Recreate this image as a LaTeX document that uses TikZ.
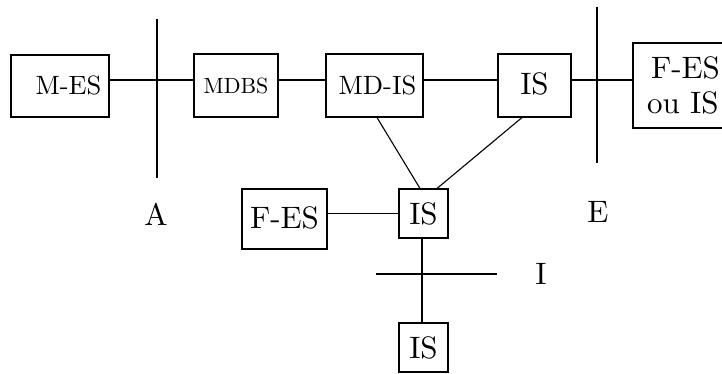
\documentclass[tikz,border=0pt]{standalone}
\usepackage{fontspec}
\setmainfont{lmroman10-regular}[Extension=.otf]
\begin{document}
\begin{tikzpicture}[x=1pt,y=-1pt,
  box/.style={draw, line width=1.1pt, inner sep=0pt},
  small/.style={font=\fontsize{26.5}{30}\selectfont},
  big/.style={font=\fontsize{31}{35}\selectfont},
  link/.style={line width=1.1pt},
  lbl/.style={font=\fontsize{31}{35}\selectfont, inner sep=0pt}]
\useasboundingbox (0,0) rectangle (722,374);
% top row of equipment
\node[box, small, minimum width=98pt, minimum height=62pt] (mes) at (60,86) {\hspace*{17pt}\raisebox{2pt}{M-ES}};
\node[box, minimum width=84pt, minimum height=63pt, font=\fontsize{22}{26}\selectfont] (mdbs) at (236,85.5) {MDBS};
\node[box, small, minimum width=97pt, minimum height=63pt] (mdis) at (374.5,85.5) {\hspace*{6pt}\raisebox{1.5pt}{MD-IS}};
\node[box, big, minimum width=73pt, minimum height=63pt] (ist) at (534.5,85.5) {\raisebox{4.5pt}{IS}};
\node[box, big, text width=95pt, inner xsep=14pt, minimum height=85pt, align=left] (fext) at (694.5,85.5) {\hspace*{4pt}F-ES\\ou IS};
% lower part
\node[box, big, minimum width=49pt, minimum height=49pt] (ism) at (423.5,213.5) {IS};
\node[box, big, minimum width=85pt, minimum height=60pt] (fes) at (284.5,219) {\raisebox{3pt}{F-ES}};
\node[box, big, minimum width=49pt, minimum height=49pt] (isb) at (423.5,347.5) {IS};
% interface lines
\coordinate (a1) at (157,19);  \coordinate (a2) at (157,178);
\coordinate (e1) at (597,7);   \coordinate (e2) at (597,163);
\coordinate (i1) at (376,274); \coordinate (i2) at (497,274);
\coordinate (hy) at (0,80);
\draw[link] (a1) -- (a2);
\draw[link] (e1) -- (e2);
\draw[link] (i1) -- (i2);
\node[lbl] (la) at (156,214) {A};
\node[lbl] (le) at (598,212) {E};
\node[lbl] (li) at (541,274) {I};
% connections
\draw[link] (mes.east |- hy) -- (mdbs.west |- hy);
\draw[link] (mdbs.east |- hy) -- (mdis.west |- hy);
\draw[link] (mdis.east |- hy) -- (ist.west |- hy);
\draw[link] (ist.east |- hy) -- (fext.west |- hy);
\draw[link] ([xshift=2.5pt]mdis.south) -- ([xshift=-3.5pt]ism.north);
\draw[link] ([xshift=-12.5pt]ist.south) -- ([xshift=13.5pt]ism.north);
\draw[link] (fes.east |- ism.west) -- (ism.west);
\draw[link] ([xshift=-1.5pt]ism.south) -- ([xshift=-1.5pt]isb.north);
\end{tikzpicture}
\end{document}
